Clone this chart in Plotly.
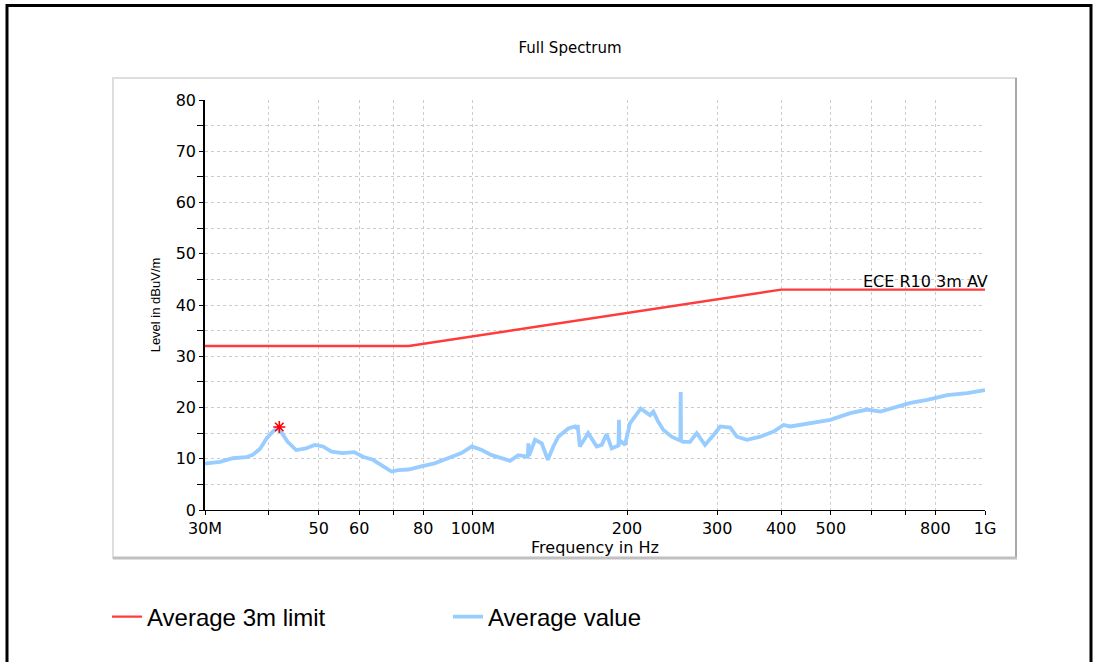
import math
import plotly.graph_objects as go

# ---------------- data ----------------
limit_freq_mhz = [30, 75, 400, 1000]
limit_level = [32, 32, 43, 43]

avg_freq_mhz = [30.0, 30.2, 32.1, 34.0, 36.1, 37.1, 38.4, 39.6, 40.7, 41.5, 42.4, 43.5,
                45.2, 47.2, 49.1, 51.0, 53.0, 55.7, 58.7, 61.0, 63.8, 66.8, 69.4, 71.5,
                74.9, 79.3, 84.2, 89.4, 95.0, 99.6, 104.1, 108.9, 113.9, 118.2, 122.7,
                126.5, 128.0, 128.4, 128.8, 132.3, 136.3, 140.1, 143.6, 146.9, 153.6,
                158.3, 160.0, 160.2, 160.6, 161.8, 168.0, 172.6, 174.5, 178.5, 182.5,
                186.7, 190.9, 192.5, 192.9, 193.3, 195.3, 198.2, 202.7, 208.9, 212.7,
                216.9, 221.8, 225.1, 230.2, 235.5, 244.5, 251.8, 254.2, 254.6, 255.0,
                257.6, 265.5, 273.6, 284.0, 294.9, 304.1, 318.1, 327.8, 342.9, 364.1,
                386.6, 404.4, 416.7, 455.9, 498.8, 545.7, 588.6, 625.0, 673.6, 715.2,
                771.2, 843.6, 922.9, 1000.0]
avg_level = [9.0, 9.1, 9.4, 10.1, 10.3, 10.7, 11.9, 14.0, 15.3, 16.0, 15.0, 13.3,
             11.7, 12.0, 12.7, 12.4, 11.4, 11.1, 11.3, 10.4, 9.8, 8.5, 7.5, 7.8,
             7.9, 8.5, 9.1, 10.1, 11.1, 12.4, 11.7, 10.7, 10.1, 9.6, 10.7,
             10.4, 10.4, 13.0, 10.6, 13.7, 13.0, 9.8, 12.4, 14.3, 15.9,
             16.3, 15.8, 16.6, 15.5, 12.4, 15.0, 13.3, 12.4, 12.7, 14.8,
             12.0, 12.4, 12.6, 17.6, 13.0, 13.3, 12.7, 16.9, 18.9, 19.8,
             19.2, 18.5, 19.2, 17.2, 15.6, 14.3, 13.7, 13.6, 23.0, 13.5,
             13.3, 13.3, 15.0, 12.7, 14.6, 16.3, 16.1, 14.3, 13.7, 14.3,
             15.3, 16.6, 16.3, 16.9, 17.6, 18.9, 19.6, 19.2, 20.2, 20.9,
             21.5, 22.4, 22.8, 23.4]

peak_freq_mhz = [41.9]
peak_level = [16.2]

x_tick_mhz = [30, 40, 50, 60, 70, 80, 100, 200, 300, 400, 500, 600, 700, 800, 1000]
x_tick_text = ["30M", "", "50", "60", "", "80", "100M", "200", "300", "400", "500",
               "", "", "800", "1G"]
y_major = [0, 10, 20, 30, 40, 50, 60, 70, 80]
y_minor = [5, 15, 25, 35, 45, 55, 65, 75]

# ---------------- figure ----------------
FONT = "DejaVu Sans"
GRID = "#cccccc"
xr = [math.log10(30e6), math.log10(1e9)]

fig = go.Figure()
fig.add_trace(go.Scatter(
    x=[f * 1e6 for f in limit_freq_mhz], y=limit_level, mode="lines",
    name="Average 3m limit", line=dict(color="#ff3b3b", width=2.4)))
fig.add_trace(go.Scatter(
    x=[f * 1e6 for f in avg_freq_mhz], y=avg_level, mode="lines",
    name="Average value", line=dict(color="#99ccff", width=3.8)))
fig.add_trace(go.Scatter(
    x=[f * 1e6 for f in peak_freq_mhz], y=peak_level, mode="markers",
    showlegend=False,
    marker=dict(symbol="asterisk-open", size=10, color="red",
                line=dict(color="red", width=1.6))))

W, H = 1093, 662
L, R, T, B = 205, 985, 100, 510
pw, ph = R - L, B - T


def px(xp):
    return (xp - L) / pw


def py(yp):
    return (B - yp) / ph


shapes = [
    # panel
    dict(type="rect", xref="paper", yref="paper", x0=px(113), x1=px(1016),
         y0=py(558), y1=py(78), line=dict(color="#dedede", width=2),
         fillcolor="white", layer="below"),
    dict(type="line", xref="paper", yref="paper", x0=px(1016), x1=px(1016),
         y0=py(558), y1=py(78), line=dict(color="#a8a8a8", width=2), layer="below"),
    dict(type="line", xref="paper", yref="paper", x0=px(113), x1=px(1017),
         y0=py(558), y1=py(558), line=dict(color="#c0c0c0", width=3), layer="below"),
    # outer frame
    dict(type="rect", xref="paper", yref="paper", x0=px(7), x1=px(1091),
         y0=py(690), y1=py(5.5), line=dict(color="black", width=3),
         fillcolor="rgba(0,0,0,0)", layer="below"),
]

fig.update_layout(
    width=W, height=H,
    margin=dict(l=L, r=W - R, t=T, b=H - B),
    paper_bgcolor="white", plot_bgcolor="rgba(0,0,0,0)",
    font=dict(family=FONT, size=14, color="black"),
    title=dict(text="Full Spectrum", x=px(570), xref="paper", xanchor="center",
               y=1 - 48 / H, yanchor="middle", font=dict(family=FONT, size=15)),
    shapes=shapes,
    showlegend=True,
    legend=dict(orientation="h", x=px(107), xanchor="left", y=py(617),
                yanchor="middle", font=dict(family="Liberation Sans, Arial", size=24),
                entrywidth=296, bgcolor="rgba(0,0,0,0)", itemwidth=30),
    annotations=[dict(x=9, y=43, xref="x", yref="y", text="ECE R10 3m AV",
                      showarrow=False, xanchor="right", yanchor="bottom", yshift=-3,
                      xshift=5, font=dict(family=FONT, size=16))],
    xaxis=dict(type="log", range=xr, tickmode="array",
               tickvals=[f * 1e6 for f in x_tick_mhz], ticktext=x_tick_text,
               ticks="outside", ticklen=4, tickcolor="black", tickwidth=1,
               showline=True, linecolor="black", linewidth=1,
               showgrid=True, gridcolor=GRID, griddash="dot", gridwidth=1,
               zeroline=False, tickfont=dict(family=FONT, size=16),
               title=dict(text="Frequency in Hz", standoff=3,
                          font=dict(family=FONT, size=16))),
    xaxis2=dict(type="log", range=xr, overlaying="x", anchor="y", side="bottom",
                tickmode="array", tickvals=[f * 1e6 for f in x_tick_mhz],
                ticks="inside", ticklen=4, tickcolor="black", showticklabels=False,
                showgrid=False, showline=False, zeroline=False),
    yaxis=dict(range=[0, 80], tickmode="array", tickvals=y_major,
               ticks="outside", ticklen=4, tickcolor="black",
               showline=True, linecolor="black", linewidth=1.5,
               showgrid=True, gridcolor=GRID, griddash="dot", gridwidth=1,
               zeroline=False, tickfont=dict(family=FONT, size=16),
               minor=dict(tickvals=y_minor, ticks="outside", ticklen=6,
                          tickcolor="black", showgrid=True, gridcolor=GRID,
                          griddash="dot", gridwidth=1),
               title=dict(text="Level in dBuV/m", standoff=12,
                          font=dict(family="Liberation Sans, Arial", size=13))),
    yaxis2=dict(range=[0, 80], overlaying="y", anchor="x", side="left",
                tickmode="array", tickvals=y_minor, ticks="inside", ticklen=6,
                tickcolor="black", showticklabels=False, showgrid=False,
                showline=False, zeroline=False),
)

fig.write_html(
    "out.html",
    config={"displayModeBar": False},
    post_script="document.body.style.margin='0';document.body.style.overflow='hidden';",
)
